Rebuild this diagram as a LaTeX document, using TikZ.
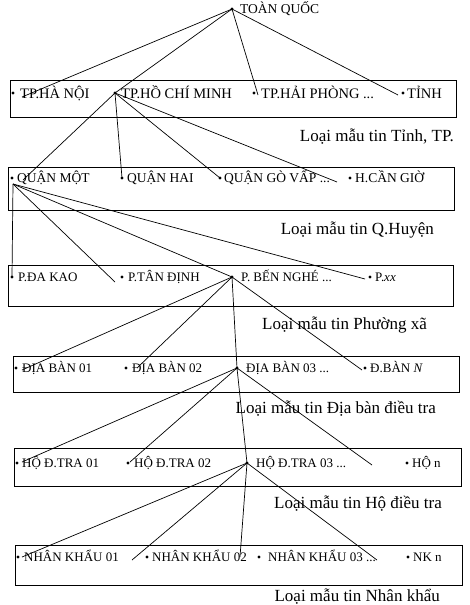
\documentclass[tikz,border=0pt]{standalone}
\usepackage{fontspec}
\setmainfont{Liberation Serif}
\usetikzlibrary{calc}
\tikzset{
	item/.style={anchor=base west, inner sep=0pt, font=\fontsize{13.5}{15}\selectfont},
	bigitem/.style={item, font=\fontsize{14.5}{16}\selectfont},
	smallitem/.style={anchor=base west, inner sep=0pt, font=\fontsize{13}{14}\selectfont},
	kind/.style={anchor=base east, inner sep=0pt, font=\fontsize{17}{20}\selectfont},
	box/.style={draw, line width=0.9pt},
	link/.style={line width=0.7pt},
}
\def\mdot(#1){\fill (#1) circle (1.6pt);}

\begin{document}
\begin{tikzpicture}[x=1pt, y=-1pt]
				\useasboundingbox (0,0) rectangle (469,605);
				
				% boxes
				\draw[box] (10,80) rectangle (456,117);
				\draw[box] (8,167) rectangle (454,210);
				\draw[box] (8,265) rectangle (453,306);
				\draw[box] (13,356) rectangle (459,392);
				\draw[box] (14,448) rectangle (461,486);
				\draw[box] (15,545) rectangle (462,585);
				
				% dots
				\coordinate (tq) at (232,9);
				\coordinate (hn) at (13,93);
				\coordinate (hcm) at (115,93);
				\coordinate (hp) at (254,93);
				\coordinate (tinh) at (403,93);
				\coordinate (q1) at (12,178);
				\coordinate (q2) at (122,178);
				\coordinate (gv) at (220,178);
				\coordinate (cg) at (350,178);
				\coordinate (dk) at (12,277);
				\coordinate (tdi) at (122,277);
				\coordinate (bn) at (232,277);
				\coordinate (pxx) at (370,277);
				\coordinate (db1) at (16,368);
				\coordinate (db2) at (126,368);
				\coordinate (db3) at (237,368);
				\coordinate (dbn) at (365,368);
				\coordinate (ho1) at (17,463);
				\coordinate (ho2) at (128,463);
				\coordinate (ho3) at (247,463);
				\coordinate (hon) at (407,463);
				\coordinate (nk1) at (18,557);
				\coordinate (nk2) at (147,557);
				\coordinate (nk3) at (259,557);
				\coordinate (nkn) at (408,557);
				\foreach \p in {tq,hn,hcm,hp,tinh,q1,q2,gv,cg,dk,tdi,bn,pxx,db1,db2,db3,dbn,ho1,ho2,ho3,hon,nk1,nk2,nk3,nkn}
					{\mdot(\p)}
				
				% texts
				\node[item] (tqt) at (240,13.5) {TOÀN QUỐC};
				\node[bigitem] (hnt) at (20,98) {TP.HÀ NỘI};
				\node[bigitem] (hcmt) at (121,98) {TP.HỒ CHÍ MINH};
				\node[bigitem] (hpt) at (261,98) {TP.HẢI PHÒNG ...};
				\node[bigitem] (tinht) at (407,98) {TỈNH};
				\node[item] (q1t) at (17,182.5) {QUẬN MỘT};
				\node[item] (q2t) at (127,182.5) {QUẬN HAI};
				\node[item] (gvt) at (224,182.5) {QUẬN GÒ VẤP ...};
				\node[item] (cgt) at (355,182.5) {H.CẦN GIỜ};
				\node[smallitem] (dkt) at (18,281.5) {P.ĐA KAO};
				\node[smallitem] (tdit) at (128,281.5) {P.TÂN ĐỊNH};
				\node[smallitem] (bnt) at (241,281.5) {P. BẾN NGHÉ ...};
				\node[smallitem] (pxxt) at (375,281.5) {P.\textit{xx}};
				\node[smallitem] (db1t) at (22,372.5) {ĐỊA BÀN 01};
				\node[smallitem] (db2t) at (132,372.5) {ĐỊA BÀN 02};
				\node[smallitem] (db3t) at (246,372.5) {ĐỊA BÀN 03 ...};
				\node[smallitem] (dbnt) at (370,372.5) {Đ.BÀN \textit{N}};
				\node[smallitem] (ho1t) at (22,467.5) {HỘ Đ.TRA 01};
				\node[smallitem] (ho2t) at (134,467.5) {HỘ Đ.TRA 02};
				\node[smallitem] (ho3t) at (256,467.5) {HỘ Đ.TRA 03 ...};
				\node[smallitem] (hont) at (412,467.5) {HỘ n};
				\node[smallitem] (nk1t) at (24,561.5) {NHÂN KHẨU 01};
				\node[smallitem] (nk2t) at (152,561.5) {NHÂN KHẨU 02};
				\node[smallitem] (nk3t) at (268,561.5) {NHÂN KHẨU 03 ...};
				\node[smallitem] (nknt) at (413,561.5) {NK n};
				
				\node[kind] (k1) at (454,141) {Loại mẫu tin Tỉnh, TP.};
				\node[kind] (k2) at (434,234) {Loại mẫu tin Q.Huyện};
				\node[kind] (k3) at (427,329) {Loại mẫu tin Phường xã};
				\node[kind] (k4) at (436,413) {Loại mẫu tin Địa bàn điều tra};
				\node[kind] (k5) at (442,508) {Loại mẫu tin Hộ điều tra};
				\node[kind] (k6) at (440,601) {Loại mẫu tin Nhân khẩu};
				
				% free ends
				\coordinate (hnEnd) at (22,97);
				\coordinate (hpEnd) at (258,95);
				\coordinate (tinhEnd) at (398,95);
				\coordinate (q1End) at (23,180);
				\coordinate (cgEnd) at (337,182);
				\coordinate (q1Low) at (13,184);
				\coordinate (tdiEnd) at (115,282);
				\coordinate (pxxEnd) at (365,279);
				\coordinate (db1End) at (22,370);
				\coordinate (db2End) at (137,368);
				\coordinate (dbnEnd) at (362,370);
				\coordinate (ho1End) at (22,462);
				\coordinate (ho2End) at (130,462);
				\coordinate (honEnd) at (372,465);
				\coordinate (nk1End) at (22,557);
				\coordinate (nk2End) at (132,560);
				\coordinate (nk2Tail) at (240,557);
				\coordinate (nk3End) at (377,560);
				
				% connectors
				\draw[link] (tq) -- (hnEnd);
				\draw[link] (tq) -- (hcm);
				\draw[link] (tq) -- (hpEnd);
				\draw[link] (tq) -- (tinhEnd);
				
				\draw[link] (hcm) -- (q1End);
				\draw[link] (hcm) -- (q2);
				\draw[link] (hcm) -- (gv);
				\draw[link] (hcm) -- (cgEnd);
				
				\draw[link] (q1Low) -- (dk);
				\draw[link] (q1Low) -- (tdiEnd);
				\draw[link] (q1Low) -- (bn);
				\draw[link] (q1Low) -- (pxxEnd);
				
				\draw[link] (bn) -- (db1End);
				\draw[link] (bn) -- (db2End);
				\draw[link] (bn) -- (db3);
				\draw[link] (bn) -- (dbnEnd);
				
				\draw[link] (db3) -- (ho1End);
				\draw[link] (db3) -- (ho2End);
				\draw[link] (db3) -- (ho3);
				\draw[link] (db3) -- (honEnd);
				
				\draw[link] (ho3) -- (nk1End);
				\draw[link] (ho3) -- (nk2End);
				\draw[link] (ho3) -- (nk2Tail);
				\draw[link] (ho3) -- (nk3End);
			\end{tikzpicture}
\end{document}
